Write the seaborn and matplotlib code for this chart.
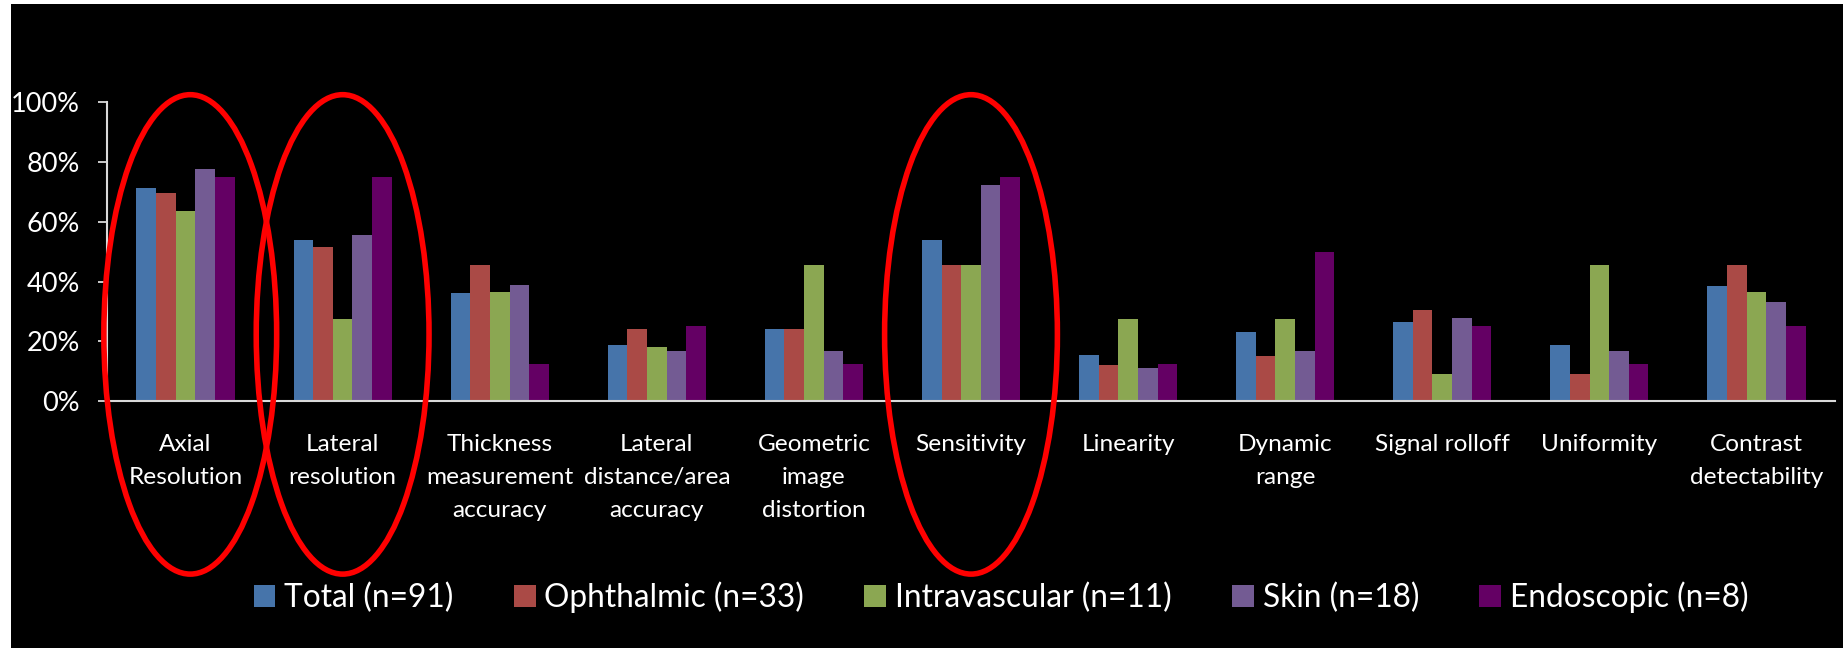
import matplotlib
matplotlib.use("Agg")
import matplotlib.pyplot as plt
from matplotlib.patches import Ellipse, Rectangle
from matplotlib.ticker import PercentFormatter
import numpy as np
import pandas as pd
import seaborn as sns

# Survey: share of respondents who consider each image-quality feature important
features = [
    "Axial\nResolution",
    "Lateral\nresolution",
    "Thickness\nmeasurement\naccuracy",
    "Lateral\ndistance/area\naccuracy",
    "Geometric\nimage\ndistortion",
    "Sensitivity",
    "Linearity",
    "Dynamic\nrange",
    "Signal rolloff",
    "Uniformity",
    "Contrast\ndetectability",
]

groups = [
    "Total (n=91)",
    "Ophthalmic (n=33)",
    "Intravascular (n=11)",
    "Skin (n=18)",
    "Endoscopic (n=8)",
]

total_pct = [71.4, 53.8, 36.3, 18.7, 24.2, 53.8, 15.4, 23.1, 26.4, 18.7, 38.5]
ophthalmic_pct = [69.7, 51.5, 45.5, 24.2, 24.2, 45.5, 12.1, 15.2, 30.3, 9.1, 45.5]
intravascular_pct = [63.6, 27.3, 36.4, 18.2, 45.5, 45.5, 27.3, 27.3, 9.1, 45.5, 36.4]
skin_pct = [77.8, 55.6, 38.9, 16.7, 16.7, 72.2, 11.1, 16.7, 27.8, 16.7, 33.3]
endoscopic_pct = [75.0, 75.0, 12.5, 25.0, 12.5, 75.0, 12.5, 50.0, 25.0, 12.5, 25.0]

colors = ["#4674AA", "#AA4A46", "#8BA752", "#735B93", "#640064"]

# Features singled out with a red ring
highlighted = ["Axial\nResolution", "Lateral\nresolution", "Sensitivity"]

series = [total_pct, ophthalmic_pct, intravascular_pct, skin_pct, endoscopic_pct]
rows = []
for grp, vals in zip(groups, series):
    for feat, v in zip(features, vals):
        rows.append({"feature": feat, "group": grp, "share": v / 100.0})
df = pd.DataFrame(rows)

sns.set_theme(style="ticks")
plt.rcParams["font.family"] = ["Lato", "DejaVu Sans"]

W, H = 1843, 648
fig = plt.figure(figsize=(W / 100, H / 100), dpi=100, facecolor="white")
# black slide background with a thin white margin on the left and top
fig.patches.append(Rectangle((11 / W, 0), 1 - 11 / W, 1 - 4 / H,
                             transform=fig.transFigure, facecolor="black",
                             edgecolor="none", zorder=-10))

ax = fig.add_axes([107 / W, (H - 401) / H, (1835 - 107) / W, (401 - 102.3) / H])
ax.set_facecolor("black")

sns.barplot(data=df, x="feature", y="share", hue="group", order=features,
            hue_order=groups, palette=colors, saturation=1, width=0.625,
            ax=ax, errorbar=None, edgecolor="none", linewidth=0)

ax.set_xlim(-0.5, len(features) - 0.5)
ax.set_ylim(0, 1.0)
ax.set_yticks(np.linspace(0, 1, 6))
ax.yaxis.set_major_formatter(PercentFormatter(xmax=1.0, decimals=0))
ax.set_xlabel("")
ax.set_ylabel("")

for side in ("top", "right"):
    ax.spines[side].set_visible(False)
for side in ("left", "bottom"):
    ax.spines[side].set_color("#D9D9D9")
    ax.spines[side].set_linewidth(1.5)

ax.tick_params(axis="y", colors="#D9D9D9", length=6.5, width=1.3,
               direction="out", pad=13, labelsize=19.5, labelcolor="white")
ax.tick_params(axis="x", length=0, pad=24, labelsize=17.6, labelcolor="white")
for lbl in ax.get_xticklabels():
    lbl.set_linespacing(1.7)
    lbl.set_horizontalalignment("center")

# red rings around the highlighted features (slight hand-drawn offsets)
ring_shift = {"Axial\nResolution": 0.03, "Lateral\nresolution": 0.0, "Sensitivity": 0.0}
for feat in highlighted:
    i = features.index(feat)
    ax.add_patch(Ellipse((i + ring_shift[feat], 0.223), width=1.1, height=1.605,
                         fill=False, edgecolor="#FF0000", linewidth=4.0,
                         clip_on=False, zorder=10))

handles, labels = ax.get_legend_handles_labels()
ax.legend_.remove()
leg = fig.legend(handles, labels, loc="center", ncol=5,
                 bbox_to_anchor=(1001 / W, 1 - 597 / H), bbox_transform=fig.transFigure,
                 frameon=False, fontsize=22.8, labelcolor="white",
                 handlelength=0.69, handleheight=0.69, handletextpad=0.28,
                 columnspacing=1.9)
for h in leg.legend_handles:
    h.set_edgecolor("none")

fig.savefig("out.png", dpi=100, facecolor=fig.get_facecolor())
